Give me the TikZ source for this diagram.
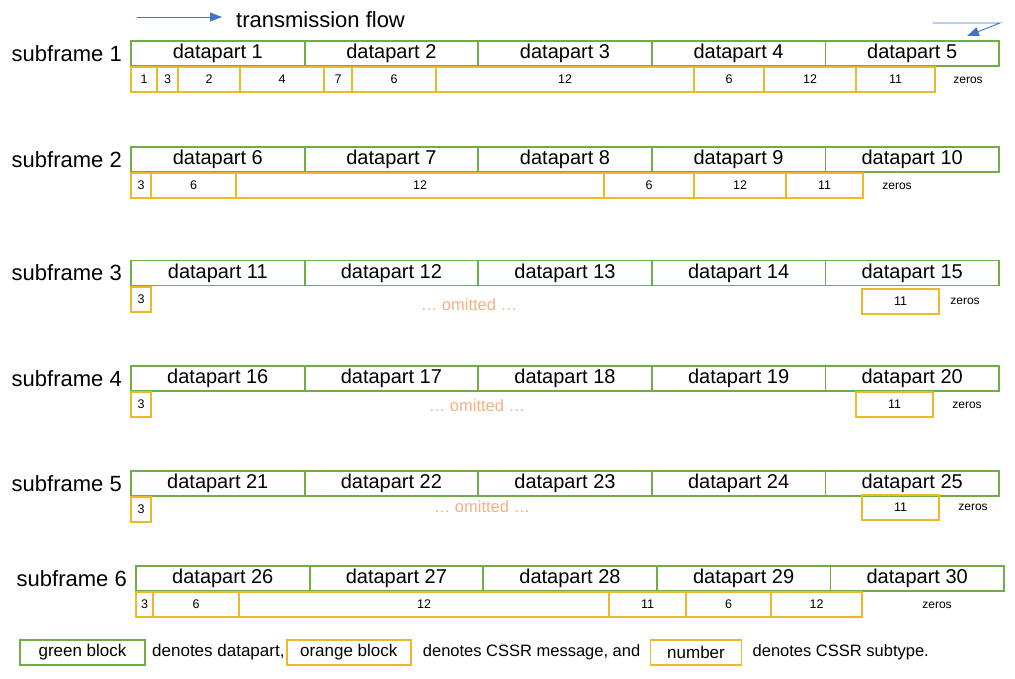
\documentclass[tikz,border=0pt]{standalone}
\usepackage{fontspec}
\setmainfont{Liberation Sans}
\usetikzlibrary{arrows.meta,positioning}
\definecolor{partgreen}{RGB}{112,173,71}
\definecolor{msgorange}{RGB}{236,186,40}
\definecolor{omitorange}{RGB}{244,177,131}
\definecolor{flowblue}{RGB}{68,114,196}

\tikzset{
  part/.style={draw=partgreen,line width=1.8pt,minimum width=173.6pt,minimum height=25pt,
    inner sep=0pt,outer sep=0pt,font=\fontsize{20}{24}\selectfont},
  msg/.style={draw=msgorange,line width=1.8pt,minimum height=25pt,inner sep=0pt,outer sep=0pt,
    font=\fontsize{12.5}{14}\selectfont},
  sflabel/.style={inner sep=0pt,font=\fontsize{22}{26}\selectfont},
  zeros/.style={inner sep=0pt,font=\fontsize{12}{14}\selectfont},
  omit/.style={inner sep=0pt,text=omitorange,font=\fontsize{16.5}{19}\selectfont},
  legend/.style={inner sep=0pt,font=\fontsize{16.5}{20}\selectfont}
}

\begin{document}
\begin{tikzpicture}[x=1pt,y=-1pt,>={Triangle[length=12pt,width=9pt]},line cap=round]
\useasboundingbox (0,0) rectangle (1015,678);

% flow direction
\coordinate (ftail) at (137,17);
\coordinate (fhead) at (222,17);
\draw[->,flowblue,line width=0.9pt] (ftail) -- (fhead);
\node[sflabel,anchor=west] (flow) at (236,20) {transmission flow};
\coordinate (wa) at (933,23);
\coordinate (wb) at (1000,23);
\coordinate (wc) at (967,36);
\draw[->,flowblue,line width=0.9pt] (wa) -- (wb) -- (wc);

% subframe 1
\node[part] (d1) at (217.8,53.5) {datapart 1};
\node[part,right=0pt of d1] (d2) {datapart 2};
\node[part,right=0pt of d2] (d3) {datapart 3};
\node[part,right=0pt of d3] (d4) {datapart 4};
\node[part,right=0pt of d4] (d5) {datapart 5};
\node[sflabel,left=9pt of d1] (sf1) {subframe 1};
\node[msg,anchor=north west,minimum width=26pt] (m1a) at (131,67) {1};
\node[msg,right=0pt of m1a,minimum width=21pt] (m1b) {3};
\node[msg,right=0pt of m1b,minimum width=62pt] (m1c) {2};
\node[msg,right=0pt of m1c,minimum width=84pt] (m1d) {4};
\node[msg,right=0pt of m1d,minimum width=28pt] (m1e) {7};
\node[msg,right=0pt of m1e,minimum width=84pt] (m1f) {6};
\node[msg,right=0pt of m1f,minimum width=258pt] (m1g) {12};
\node[msg,right=0pt of m1g,minimum width=70pt] (m1h) {6};
\node[msg,right=0pt of m1h,minimum width=92pt] (m1i) {12};
\node[msg,right=0pt of m1i,minimum width=79pt] (m1j) {11};
\node[zeros] (z1) at (968,80) {zeros};

% subframe 2
\node[part] (d6) at (217.8,159.5) {datapart 6};
\node[part,right=0pt of d6] (d7) {datapart 7};
\node[part,right=0pt of d7] (d8) {datapart 8};
\node[part,right=0pt of d8] (d9) {datapart 9};
\node[part,right=0pt of d9] (d10) {datapart 10};
\node[sflabel,left=9pt of d6] (sf2) {subframe 2};
\node[msg,anchor=north west,minimum width=20pt] (m2a) at (131,173) {3};
\node[msg,right=0pt of m2a,minimum width=85pt] (m2b) {6};
\node[msg,right=0pt of m2b,minimum width=368pt] (m2c) {12};
\node[msg,right=0pt of m2c,minimum width=90pt] (m2d) {6};
\node[msg,right=0pt of m2d,minimum width=92pt] (m2e) {12};
\node[msg,right=0pt of m2e,minimum width=77pt] (m2f) {11};
\node[zeros] (z2) at (897,186) {zeros};

% subframe 3
\node[part] (d11) at (217.8,273) {datapart 11};
\node[part,right=0pt of d11] (d12) {datapart 12};
\node[part,right=0pt of d12] (d13) {datapart 13};
\node[part,right=0pt of d13] (d14) {datapart 14};
\node[part,right=0pt of d14] (d15) {datapart 15};
\node[sflabel,left=9pt of d11] (sf3) {subframe 3};
\node[msg,anchor=north west,minimum width=20pt] (m3a) at (131,287) {3};
\node[msg,anchor=north west,minimum width=77pt] (m3b) at (862,289) {11};
\node[omit] (o3) at (469,305) {\dots\ omitted \dots};
\node[zeros] (z3) at (965,301) {zeros};

% subframe 4
\node[part] (d16) at (217.8,378.5) {datapart 16};
\node[part,right=0pt of d16] (d17) {datapart 17};
\node[part,right=0pt of d17] (d18) {datapart 18};
\node[part,right=0pt of d18] (d19) {datapart 19};
\node[part,right=0pt of d19] (d20) {datapart 20};
\node[sflabel,left=9pt of d16] (sf4) {subframe 4};
\node[msg,anchor=north west,minimum width=20pt] (m4a) at (131,392) {3};
\node[msg,anchor=north west,minimum width=77pt] (m4b) at (856,392) {11};
\node[omit] (o4) at (477,406) {\dots\ omitted \dots};
\node[zeros] (z4) at (967,405) {zeros};

% subframe 5
\node[part] (d21) at (217.8,483.5) {datapart 21};
\node[part,right=0pt of d21] (d22) {datapart 22};
\node[part,right=0pt of d22] (d23) {datapart 23};
\node[part,right=0pt of d23] (d24) {datapart 24};
\node[part,right=0pt of d24] (d25) {datapart 25};
\node[sflabel,left=9pt of d21] (sf5) {subframe 5};
\node[msg,anchor=north west,minimum width=20pt] (m5a) at (131,497) {3};
\node[msg,anchor=north west,minimum width=77pt] (m5b) at (862,495) {11};
\node[omit] (o5) at (482,507) {\dots\ omitted \dots};
\node[zeros] (z5) at (973,507) {zeros};

% subframe 6
\node[part] (d26) at (222.8,578.5) {datapart 26};
\node[part,right=0pt of d26] (d27) {datapart 27};
\node[part,right=0pt of d27] (d28) {datapart 28};
\node[part,right=0pt of d28] (d29) {datapart 29};
\node[part,right=0pt of d29] (d30) {datapart 30};
\node[sflabel,left=9pt of d26] (sf6) {subframe 6};
\node[msg,anchor=north west,minimum width=17pt] (m6a) at (136,592) {3};
\node[msg,right=0pt of m6a,minimum width=86pt] (m6b) {6};
\node[msg,right=0pt of m6b,minimum width=370pt] (m6c) {12};
\node[msg,right=0pt of m6c,minimum width=77pt] (m6d) {11};
\node[msg,right=0pt of m6d,minimum width=85pt] (m6e) {6};
\node[msg,right=0pt of m6e,minimum width=91pt] (m6f) {12};
\node[zeros] (z6) at (937,605) {zeros};

% legend
\node[part,minimum width=125pt,font=\fontsize{17}{20}\selectfont] (lg) at (82.5,652.5) {green block};
\node[legend,right=7pt of lg,font=\fontsize{17}{20}\selectfont] (lgt) {denotes datapart,};
\node[msg,right=2pt of lgt,minimum width=124pt,font=\fontsize{17}{20}\selectfont] (lo) {orange block};
\node[legend,right=12pt of lo] (lot) {denotes CSSR message, and};
\node[msg,right=10pt of lot,minimum width=91pt,font=\fontsize{17}{20}\selectfont] (ln) {number};
\node[legend,right=11pt of ln] (lnt) {denotes CSSR subtype.};
\end{tikzpicture}
\end{document}
